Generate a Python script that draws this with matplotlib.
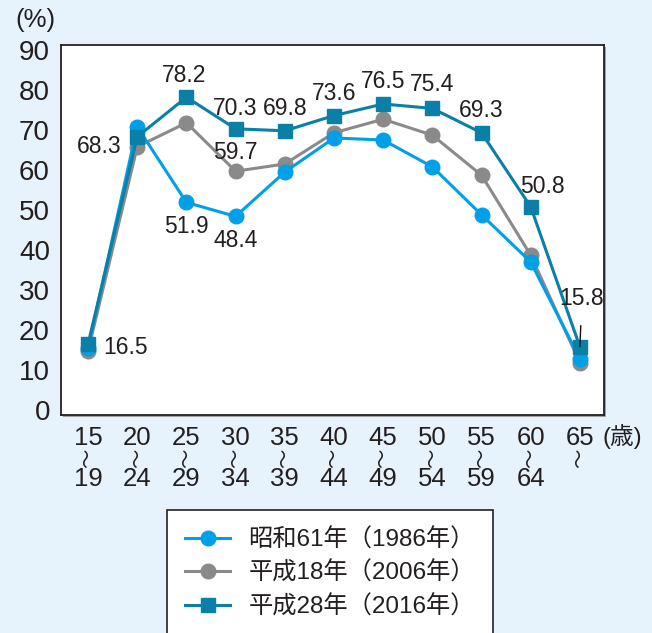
import matplotlib.pyplot as plt
from matplotlib.patches import Rectangle

plt.rcParams['font.family'] = ['Liberation Sans', 'Noto Sans CJK JP', 'DejaVu Sans']

# age groups (tick labels): start and end of each band
age_from = ['15', '20', '25', '30', '35', '40', '45', '50', '55', '60', '65']
age_to = ['19', '24', '29', '34', '39', '44', '49', '54', '59', '64', '']

s1986 = [15.5, 70.8, 51.9, 48.4, 59.5, 68.0, 67.5, 60.8, 48.8, 37.0, 12.8]
s2006 = [14.8, 65.8, 71.8, 59.7, 61.5, 69.3, 72.7, 68.7, 58.7, 38.7, 11.8]
s2016 = [16.5, 68.3, 78.2, 70.3, 69.8, 73.6, 76.5, 75.4, 69.3, 50.8, 15.8]

names = ['昭和61年（1986年）', '平成18年（2006年）', '平成28年（2016年）']

bg = '#e6f3fc'
c_blue = '#00a0e9'
c_gray = '#8a8a8a'
c_teal = '#0a7fa8'
txt = '#231f20'

fig = plt.figure(figsize=(6.52, 6.33), dpi=100, facecolor=bg)
W, H = 652, 633
l, r, t, b = 61, 604, 45, 415
# soft shadow behind frame
fig.patches.append(Rectangle(((l + 2) / W, 1 - (b + 2) / H), (r - l) / W, (b - t) / H,
                             transform=fig.transFigure, facecolor='#a0a0a0',
                             edgecolor='none', zorder=0))
ax = fig.add_axes([l / W, 1 - b / H, (r - l) / W, (b - t) / H])
ax.set_zorder(2)
ax.set_facecolor('white')
for sp in ax.spines.values():
    sp.set_color('#222222')
    sp.set_linewidth(1.3)

x = list(range(len(age_from)))
ax.plot(x, s2006, color=c_gray, lw=2.2, marker='o', ms=10.5, label=names[1], zorder=2)
ax.plot(x, s1986, color=c_blue, lw=2.2, marker='o', ms=10.5, label=names[0], zorder=3)
ax.plot(x, s2016, color=c_teal, lw=2.2, marker='s', ms=10, label=names[2], zorder=4)

ax.set_xlim(-0.55, 10.49)
ax.set_ylim(-1.25, 91.25)
ax.set_yticks(range(0, 91, 10))
ax.tick_params(axis='y', length=0, pad=8, labelsize=20, colors=txt)
ax.set_xticks(x)
ax.set_xticklabels(age_from, fontsize=18.5, color=txt)
ax.tick_params(axis='x', length=0, pad=8)
# vertical wave dash and upper bound of each band
for i in x:
    ax.annotate('〜', (x[i], 0), xycoords=('data', 'axes fraction'), xytext=(0, -43),
                textcoords='offset pixels', rotation=90, ha='center', va='center',
                fontsize=14, color=txt, family='Noto Sans CJK JP', annotation_clip=False)
    ax.annotate(age_to[i], (x[i], 0), xycoords=('data', 'axes fraction'), xytext=(0, -64),
                textcoords='offset pixels', ha='center', va='center',
                fontsize=18.5, color=txt, annotation_clip=False)

fs = 16.5
# (index, dx, dy) offsets in pixels
labels2016 = [(0, 38, -3), (1, -38, -10), (2, -2, 22), (3, 0, 20), (4, 0, 22),
              (5, 0, 22), (6, 0, 22), (7, 0, 24), (8, 0, 22), (9, 12, 20)]
for i, dx, dy in labels2016:
    ax.annotate(f'{s2016[i]:.1f}', (x[i], s2016[i]), xytext=(dx, dy),
                textcoords='offset pixels', ha='center', va='center',
                fontsize=fs, color=txt, zorder=6)
ax.annotate(f'{s2016[10]:.1f}', (x[10], s2016[10]), xytext=(2, 48),
            textcoords='offset pixels', ha='center', va='center', fontsize=fs,
            color=txt, zorder=6,
            arrowprops=dict(arrowstyle='-', color='#111111', lw=1, shrinkA=9, shrinkB=0))
ax.annotate(f'{s2006[3]:.1f}', (x[3], s2006[3]), xytext=(0, 19),
            textcoords='offset pixels', ha='center', va='center', fontsize=fs, color=txt)
for i in (2, 3):
    ax.annotate(f'{s1986[i]:.1f}', (x[i], s1986[i]), xytext=(0, -24),
                textcoords='offset pixels', ha='center', va='center', fontsize=fs, color=txt)

fig.text(35 / W, 1 - 20 / H, '(%)', fontsize=18.5, ha='center', va='center', color=txt)
fig.text(622 / W, 1 - 437 / H, '(歳)', fontsize=17, ha='center', va='center', color=txt)

handles, labs = ax.get_legend_handles_labels()
order = [1, 0, 2]
leg = fig.legend([handles[k] for k in order], [labs[k] for k in order],
                 loc='upper left', bbox_to_anchor=(167 / W, 1 - 510 / H),
                 fontsize=17.5, frameon=True, fancybox=False, handlelength=1.85,
                 handletextpad=0.75, labelspacing=0.42, borderpad=0.75,
                 borderaxespad=0)
leg.get_frame().set_edgecolor('#222222')
leg.get_frame().set_linewidth(1.2)
leg.get_frame().set_alpha(1)
for tx in leg.get_texts():
    tx.set_color(txt)

fig.savefig('out.png', dpi=100, facecolor=bg)
